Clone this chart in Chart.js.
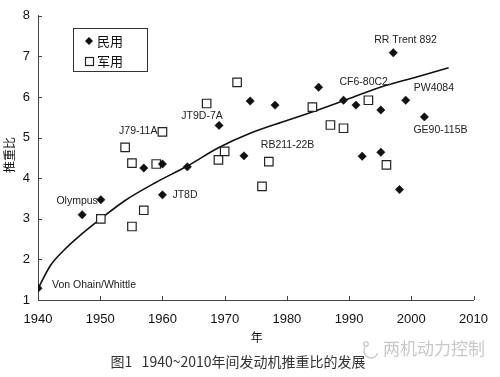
<!DOCTYPE html>
<html>
<head>
<meta charset="utf-8">
<script src="https://cdn.jsdelivr.net/npm/chart.js@4/dist/chart.umd.min.js"></script>
<style>
  html, body { margin: 0; padding: 0; background: #fff; }
  #wrap { width: 500px; height: 377px; position: relative; }
</style>
</head>
<body>
<div id="wrap"><canvas id="twrChart" width="500" height="377"></canvas></div>
<script>
// civil engines (filled diamonds)
const civilYears  = [1940, 1947.1, 1950.1, 1957, 1960, 1960, 1964, 1969.1, 1973.1, 1974.1, 1978.1,
                     1985.1, 1989.1, 1991.1, 1992.1, 1995.1, 1995.1, 1997.1, 1998.1, 1999.1, 2002.1];
const civilRatios = [1.29, 3.1, 3.47, 4.25, 4.35, 3.59, 4.28, 5.3, 4.55, 5.9, 5.8,
                     6.24, 5.92, 5.8, 4.54, 5.68, 4.64, 7.09, 3.72, 5.92, 5.51];
const civilNames  = ['Von Ohain/Whittle', null, 'Olympus', null, null, 'JT8D', null, 'JT9D-7A', null, null, null,
                     null, 'CF6-80C2', null, null, null, null, 'RR Trent 892', null, 'PW4084', 'GE90-115B'];

// military engines (open squares)
const militaryYears  = [1950.1, 1955.1, 1957, 1954, 1955.1, 1959, 1960, 1967.1, 1969, 1970, 1972,
                        1976, 1977.1, 1984.1, 1987, 1989.1, 1993.1, 1996];
const militaryRatios = [3.0, 2.81, 3.21, 4.76, 4.37, 4.35, 5.14, 5.84, 4.45, 4.66, 6.36,
                        3.8, 4.41, 5.75, 5.31, 5.23, 5.92, 4.33];
const militaryNames  = [null, null, null, null, null, null, 'J79-11A', null, null, null, null,
                        null, 'RB211-22B', null, null, null, null, null];

// trend curve
const trendYears  = [1940, 1942, 1944, 1947, 1950, 1954, 1959, 1964, 1969, 1974, 1980, 1985, 1989, 1995, 2001, 2006];
const trendRatios = [1.28, 1.85, 2.2, 2.62, 2.99, 3.45, 3.9, 4.3, 4.75, 5.1, 5.42, 5.68, 5.9, 6.24, 6.5, 6.72];

const legendLabels = ['民用', '军用'];
const xTitle = '年';
const yTitle = '推重比';
const caption = '图1   1940~2010年间发动机推重比的发展';
const watermark = '两机动力控制';

const LATIN = '"Liberation Sans", Arial, sans-serif';
const CJK = '"Noto Sans CJK SC", sans-serif';

// where each name sits relative to its marker
const labelOffsets = {
    'Von Ohain/Whittle': [14, -3, 'left'],
    'Olympus': [-3, 1, 'right'],
    'JT8D': [10, 0, 'left'],
    'JT9D-7A': [-17, -9, 'center'],
    'CF6-80C2': [-4, -18, 'left'],
    'RR Trent 892': [-19, -13, 'left'],
    'PW4084': [8, -12, 'left'],
    'GE90-115B': [-11, 13, 'left'],
    'J79-11A': [-5, -1, 'right'],
    'RB211-22B': [-8, -16, 'left']
};

const toPoints = (xs, ys) => xs.map((x, i) => ({ x: x, y: ys[i] }));

const annotate = {
    id: 'annotate',
    afterDatasetsDraw(chart) {
        const ctx = chart.ctx;
        const xs = chart.scales.x, ys = chart.scales.y;
        const area = chart.chartArea;
        ctx.save();

        // inward tick marks
        ctx.strokeStyle = '#444';
        ctx.lineWidth = 1;
        ctx.beginPath();
        for (let v = 1940; v <= 2010; v += 10) {
            const px = Math.round(xs.getPixelForValue(v)) + 0.5;
            ctx.moveTo(px, area.bottom);
            ctx.lineTo(px, area.bottom - 4);
        }
        for (let v = 1; v <= 8; v++) {
            const py = Math.round(ys.getPixelForValue(v)) + 0.5;
            ctx.moveTo(area.left, py);
            ctx.lineTo(area.left + 4, py);
        }
        ctx.stroke();

        // point names
        ctx.fillStyle = '#222';
        ctx.font = '10.5px ' + LATIN;
        ctx.textBaseline = 'middle';
        const drawNames = (years, ratios, names) => {
            names.forEach((name, i) => {
                if (!name) return;
                const off = labelOffsets[name];
                ctx.textAlign = off[2];
                ctx.fillText(name, xs.getPixelForValue(years[i]) + off[0], ys.getPixelForValue(ratios[i]) + off[1]);
            });
        };
        drawNames(civilYears, civilRatios, civilNames);
        drawNames(militaryYears, militaryRatios, militaryNames);

        // legend box
        ctx.strokeStyle = '#333';
        ctx.lineWidth = 1;
        ctx.strokeRect(73.5, 28.5, 74, 43);
        ctx.fillStyle = '#111';
        ctx.beginPath();
        ctx.moveTo(89, 37); ctx.lineTo(93, 41); ctx.lineTo(89, 45); ctx.lineTo(85, 41);
        ctx.closePath();
        ctx.fill();
        ctx.strokeStyle = '#222';
        ctx.lineWidth = 1.2;
        ctx.strokeRect(85.5, 57.5, 8, 8);
        ctx.font = '13px ' + CJK;
        ctx.textAlign = 'left';
        ctx.fillStyle = '#111';
        ctx.fillText(legendLabels[0], 97, 41);
        ctx.fillText(legendLabels[1], 97, 61);

        // axis titles
        ctx.font = '12px ' + CJK;
        ctx.textAlign = 'center';
        ctx.fillText(xTitle, (area.left + area.right) / 2 + 1, 337);
        ctx.save();
        ctx.translate(9, 155);
        ctx.rotate(-Math.PI / 2);
        ctx.fillText(yTitle, 0, 0);
        ctx.restore();

        // caption and watermark
        ctx.font = '14px ' + CJK;
        ctx.fillStyle = '#333';
        ctx.fillText(caption, 238, 362);
        ctx.font = '17px ' + CJK;
        ctx.fillStyle = '#c8c8c8';
        ctx.textAlign = 'left';
        ctx.fillText(watermark, 383, 349);
        ctx.strokeStyle = '#c8c8c8';
        ctx.lineWidth = 1.3;
        ctx.beginPath();
        ctx.arc(371, 351, 7, Math.PI * 0.1, Math.PI * 1.2);
        ctx.stroke();
        ctx.beginPath();
        ctx.arc(366, 344, 2.2, 0, Math.PI * 2);
        ctx.stroke();
        ctx.restore();
    }
};

new Chart(document.getElementById('twrChart'), {
    type: 'scatter',
    data: {
        datasets: [{
            label: 'trend',
            type: 'line',
            data: toPoints(trendYears, trendRatios),
            borderColor: '#111',
            borderWidth: 1.6,
            pointRadius: 0,
            fill: false,
            cubicInterpolationMode: 'monotone',
            order: 3
        }, {
            label: legendLabels[1],
            data: toPoints(militaryYears, militaryRatios),
            pointStyle: 'rect',
            pointRadius: 6,
            backgroundColor: '#fff',
            borderColor: '#222',
            borderWidth: 1.2,
            order: 2
        }, {
            label: legendLabels[0],
            data: toPoints(civilYears, civilRatios),
            pointStyle: 'rectRot',
            pointRadius: 4.2,
            backgroundColor: '#111',
            borderColor: '#111',
            borderWidth: 0.5,
            order: 1
        }]
    },
    options: {
        responsive: false,
        animation: false,
        layout: { padding: { left: 0, top: 10, right: 22, bottom: 0 } },
        plugins: { legend: { display: false }, tooltip: { enabled: false } },
        scales: {
            x: {
                type: 'linear',
                min: 1940,
                max: 2010,
                grid: { display: false, drawTicks: false },
                border: { display: true, color: '#444', width: 1 },
                ticks: {
                    stepSize: 10,
                    padding: 12,
                    color: '#111',
                    font: { family: LATIN, size: 13 },
                    callback: v => String(v)
                },
                afterFit: s => { s.height = 77; }
            },
            y: {
                min: 1,
                max: 8,
                grid: { display: false, drawTicks: false },
                border: { display: true, color: '#444', width: 1 },
                ticks: {
                    stepSize: 1,
                    padding: 8,
                    color: '#111',
                    font: { family: LATIN, size: 13 }
                },
                afterFit: s => { s.width = 38; }
            }
        }
    },
    plugins: [annotate]
});
</script>
</body>
</html>
